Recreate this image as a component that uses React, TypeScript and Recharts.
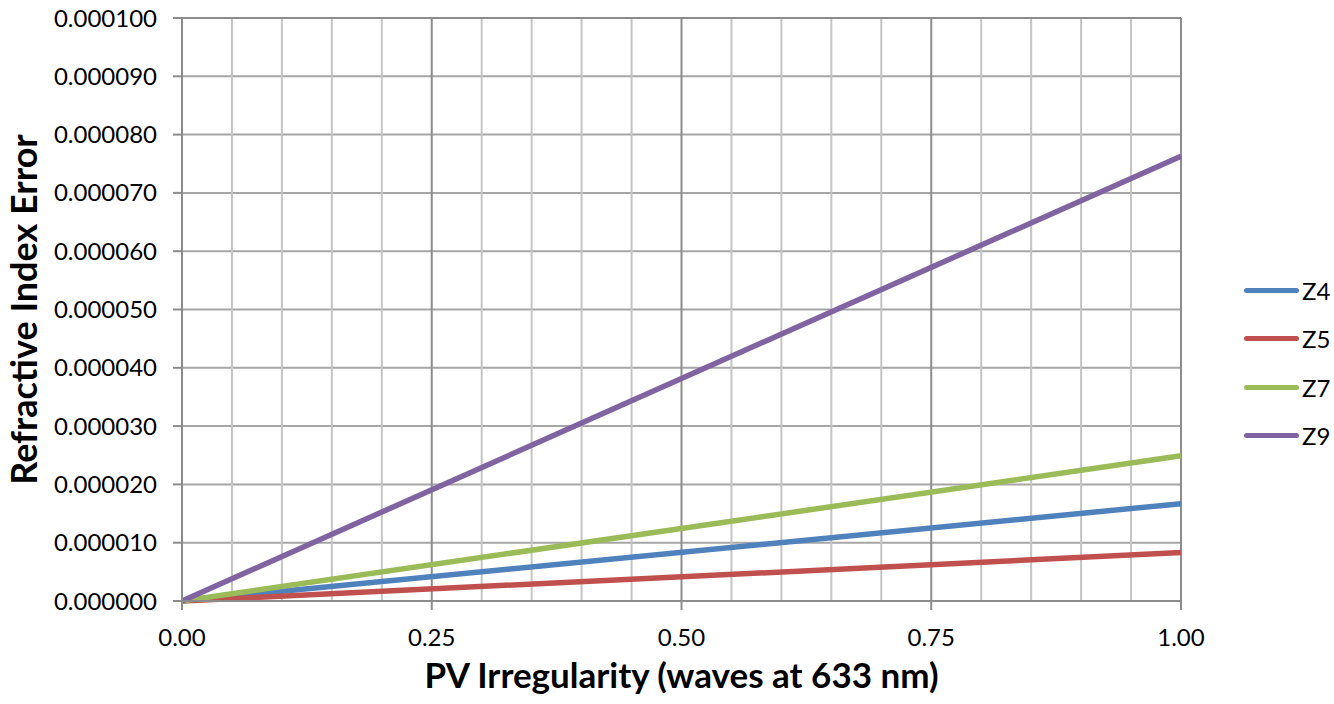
import React from 'react';
import { LineChart, Line, XAxis, YAxis, CartesianGrid, ReferenceLine } from 'recharts';

const xValues = [0, 1];
const z4 = [0, 0.0000167];
const z5 = [0, 0.0000083];
const z7 = [0, 0.0000249];
const z9 = [0, 0.0000763];

const xTicks = [0, 0.25, 0.5, 0.75, 1];
const xMinorGrid = [0.05, 0.1, 0.15, 0.2, 0.3, 0.35, 0.4, 0.45, 0.55, 0.6, 0.65, 0.7, 0.8, 0.85, 0.9, 0.95];
const xMajorGrid = [0.25, 0.5, 0.75, 1];
const yTicks = [0, 0.00001, 0.00002, 0.00003, 0.00004, 0.00005, 0.00006, 0.00007, 0.00008, 0.00009, 0.0001];

const seriesNames = ['Z4', 'Z5', 'Z7', 'Z9'];
const seriesColors = ['#4F81BD', '#C0504D', '#9BBB59', '#8064A2'];

const data = xValues.map((x, i) => ({ x, Z4: z4[i], Z5: z5[i], Z7: z7[i], Z9: z9[i] }));

const FONT = 'Lato, "Open Sans", sans-serif';

export default function App() {
  return (
    <div style={{ position: 'absolute', left: 0, top: 0, width: 1334, height: 704, background: '#fff' }}>
      <LineChart width={1334} height={704} data={data} margin={{ top: 18, right: 153, bottom: 0, left: 0 }}>
        <CartesianGrid vertical={false} stroke="#a6a6a6" strokeWidth={2} />
        {xMinorGrid.map((v) => (
          <ReferenceLine key={'m' + v} x={v} stroke="#c4c4c4" strokeWidth={2} />
        ))}
        {xMajorGrid.map((v) => (
          <ReferenceLine key={'M' + v} x={v} stroke="#8c8c8c" strokeWidth={2} />
        ))}
        <ReferenceLine y={0.0001} stroke="#8c8c8c" strokeWidth={2} />
        <XAxis
          dataKey="x"
          type="number"
          domain={[0, 1]}
          ticks={xTicks}
          tickFormatter={(v: number) => v.toFixed(2)}
          height={103}
          stroke="#8c8c8c"
          strokeWidth={2}
          tickSize={9}
          tickMargin={19}
          tick={{ fill: '#000', fontSize: 24, fontFamily: FONT }}
          label={{ value: 'PV Irregularity (waves at 633 nm)', position: 'insideBottom', offset: 16, style: { fontSize: 35, fontWeight: 700, fill: '#000', fontFamily: FONT } }}
        />
        <YAxis
          type="number"
          domain={[0, 0.0001]}
          ticks={yTicks}
          tickFormatter={(v: number) => v.toFixed(6)}
          width={182}
          stroke="#8c8c8c"
          strokeWidth={2}
          tickSize={9}
          tickMargin={16}
          interval={0}
          tick={{ fill: '#000', fontSize: 24, fontFamily: FONT }}
          label={{ value: 'Refractive Index Error', angle: -90, position: 'insideLeft', offset: 24, style: { textAnchor: 'middle', fontSize: 36, fontWeight: 700, fill: '#000', fontFamily: FONT } }}
        />
        {seriesNames.map((n, i) => (
          <Line key={n} dataKey={n} stroke={seriesColors[i]} strokeWidth={5.5} dot={false} isAnimationActive={false} />
        ))}
      </LineChart>
      <div style={{ position: 'absolute', left: 1244, top: 266, fontFamily: FONT }}>
        {seriesNames.map((n, i) => (
          <div key={n} style={{ display: 'flex', alignItems: 'center', height: 48.5 }}>
            <div style={{ width: 55, height: 5, borderRadius: 3, background: seriesColors[i] }} />
            <span style={{ fontSize: 24, marginLeft: 3, color: '#000' }}>{n}</span>
          </div>
        ))}
      </div>
    </div>
  );
}
